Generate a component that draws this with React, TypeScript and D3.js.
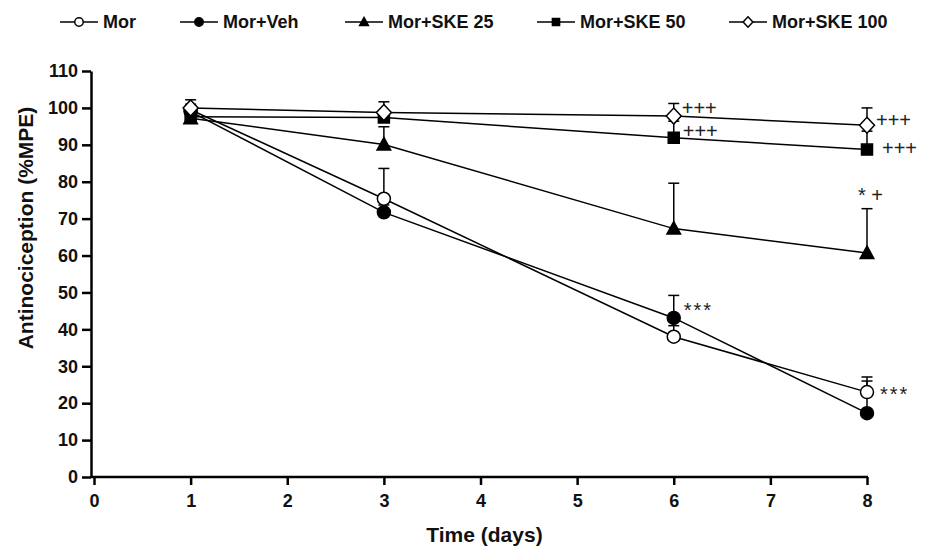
import React, { useEffect, useRef } from 'react';
import * as d3 from 'd3';

// days of measurement
const days = [1, 3, 6, 8];

// mean %MPE per group
const mor = [99.5, 75.4, 38.0, 23.0];
const morVeh = [99.0, 71.7, 43.1, 17.3];
const ske25 = [97.2, 90.1, 67.3, 60.7];
const ske50 = [97.6, 97.4, 91.9, 88.7];
const ske100 = [100.0, 98.75, 97.8, 95.3];

// upper SEM per group
const morErr = [1.5, 8.2, 3.0, 4.1];
const morVehErr = [1.0, 2.0, 6.1, 8.7];
const ske25Err = [1.5, 4.8, 12.3, 12.0];
const ske50Err = [1.0, 1.0, 4.5, 5.0];
const ske100Err = [2.2, 2.9, 3.4, 4.7];

const seriesNames = ['Mor', 'Mor+Veh', 'Mor+SKE 25', 'Mor+SKE 50', 'Mor+SKE 100'];
const xTicks = [0, 1, 2, 3, 4, 5, 6, 7, 8];
const yTicks = [0, 10, 20, 30, 40, 50, 60, 70, 80, 90, 100, 110];

// significance marks: series index, day index, text
const marks = [
  { s: 4, d: 2, text: '+++' },
  { s: 3, d: 2, text: '+++' },
  { s: 4, d: 3, text: '+++' },
  { s: 3, d: 3, text: '+++' },
  { s: 2, d: 3, text: '* +' },
  { s: 1, d: 2, text: '***' },
  { s: 0, d: 3, text: '***' },
];

const FONT = '"Liberation Sans", Arial, sans-serif';

const series = [
  { name: seriesNames[0], values: mor, err: morErr, shape: 'circle', fill: '#fff' },
  { name: seriesNames[1], values: morVeh, err: morVehErr, shape: 'circle', fill: '#000' },
  { name: seriesNames[2], values: ske25, err: ske25Err, shape: 'triangle', fill: '#000' },
  { name: seriesNames[3], values: ske50, err: ske50Err, shape: 'square', fill: '#000' },
  { name: seriesNames[4], values: ske100, err: ske100Err, shape: 'diamond', fill: '#fff' },
];

// offsets for the significance marks (dx, dy from the point or error cap)
const markOffsets = [
  { dx: 8, dy: -8, fromCap: false },
  { dx: 9, dy: -7, fromCap: false },
  { dx: 9, dy: -5, fromCap: false },
  { dx: 15, dy: -2, fromCap: false },
  { dx: -9, dy: -14, fromCap: true },
  { dx: 10, dy: -12, fromCap: false },
  { dx: 13, dy: -2, fromCap: false },
];

const markerPath = (shape) => {
  switch (shape) {
    case 'triangle':
      return 'M0,-7L6.8,5.5L-6.8,5.5Z';
    case 'square':
      return 'M-5.5,-5.5H5.5V5.5H-5.5Z';
    case 'diamond':
      return 'M0,-8L7.5,0L0,8L-7.5,0Z';
    default:
      return null;
  }
};

const Marker = ({ shape, fill, x, y, k = 1 }) => {
  if (shape === 'circle') {
    return <circle cx={x} cy={y} r={6.5 * k} fill={fill} stroke="#000" strokeWidth={1.5} />;
  }
  return (
    <path
      d={markerPath(shape)}
      transform={`translate(${x},${y}) scale(${k})`}
      fill={fill}
      stroke="#000"
      strokeWidth={1.5 / k}
      strokeLinejoin="miter"
    />
  );
};

const App = () => {
  const xRef = useRef(null);
  const yRef = useRef(null);

  const width = 928;
  const height = 548;

  const x = d3.scaleLinear().domain([0, 8]).range([94, 867]);
  const y = d3.scaleLinear().domain([0, 110]).range([477, 71]);

  useEffect(() => {
    const xAxis = d3.axisBottom(x).tickValues(xTicks).tickFormat(d3.format('d')).tickSize(8).tickSizeOuter(0).tickPadding(9);
    const yAxis = d3.axisLeft(y).tickValues(yTicks).tickFormat(d3.format('d')).tickSize(9).tickSizeOuter(0).tickPadding(4);

    const gx = d3.select(xRef.current);
    gx.selectAll('*').remove();
    gx.call(xAxis);
    gx.select('.domain').attr('stroke-width', 2.5).attr('d', `M${x(0) - 3},0H${x(8) + 1}`);
    gx.selectAll('.tick line').attr('stroke-width', 2.5);
    gx.selectAll('.tick text')
      .attr('font-family', FONT)
      .attr('font-weight', 'bold')
      .attr('font-size', 18)
      .attr('fill', '#111');

    const gy = d3.select(yRef.current);
    gy.selectAll('*').remove();
    gy.call(yAxis);
    gy.select('.domain').attr('stroke-width', 2.5);
    gy.selectAll('.tick line').attr('stroke-width', 2.5);
    gy.selectAll('.tick text')
      .attr('font-family', FONT)
      .attr('font-weight', 'bold')
      .attr('font-size', 18)
      .attr('fill', '#111');
  }, []);

  const line = d3.line().x((d) => x(d[0])).y((d) => y(d[1]));

  // legend layout
  const legendX = [60, 180, 345, 537, 729];
  const legendY = 22;

  return (
    <svg width={width} height={height} style={{ position: 'absolute', left: 0, top: 0, background: '#fff' }}>
      <rect width={width} height={height} fill="#fff" />

      {/* legend */}
      {series.map((s, i) => (
        <g key={s.name} transform={`translate(${legendX[i]},${legendY})`}>
          <line x1={0} x2={38} y1={0} y2={0} stroke="#000" strokeWidth={1.5} />
          <Marker shape={s.shape} fill={s.fill} x={19} y={0} k={0.65} />
          <text
            x={43}
            y={0}
            dominantBaseline="central"
            fontFamily={FONT}
            fontWeight="bold"
            fontSize={18}
            fill="#111"
          >
            {s.name}
          </text>
        </g>
      ))}

      {/* axes */}
      <g ref={xRef} transform={`translate(0,${y(0)})`} />
      <g ref={yRef} transform={`translate(${x(0) - 3},0)`} />

      <text
        x={(x(0) + x(8)) / 2 + 4}
        y={534}
        textAnchor="middle"
        dominantBaseline="central"
        fontFamily={FONT}
        fontWeight="bold"
        fontSize={21}
        fill="#111"
      >
        Time (days)
      </text>
      <text
        transform={`translate(25,228) rotate(-90)`}
        textAnchor="middle"
        dominantBaseline="central"
        fontFamily={FONT}
        fontWeight="bold"
        fontSize={21}
        fill="#111"
      >
        Antinociception (%MPE)
      </text>

      {/* lines */}
      {series.map((s) => (
        <path
          key={`l-${s.name}`}
          d={line(days.map((d, i) => [d, s.values[i]]))}
          fill="none"
          stroke="#000"
          strokeWidth={1.5}
        />
      ))}

      {/* error bars */}
      {series.map((s) =>
        days.map((d, i) => (
          <g key={`e-${s.name}-${d}`} stroke="#000" strokeWidth={1.5}>
            <line x1={x(d)} x2={x(d)} y1={y(s.values[i])} y2={y(s.values[i] + s.err[i])} />
            <line x1={x(d) - 5.5} x2={x(d) + 5.5} y1={y(s.values[i] + s.err[i])} y2={y(s.values[i] + s.err[i])} />
          </g>
        ))
      )}

      {/* markers */}
      {series.map((s) =>
        days.map((d, i) => (
          <Marker key={`m-${s.name}-${d}`} shape={s.shape} fill={s.fill} x={x(d)} y={y(s.values[i])} />
        ))
      )}

      {/* significance marks */}
      {marks.map((m, k) => {
        const s = series[m.s];
        const o = markOffsets[k];
        const v = o.fromCap ? s.values[m.d] + s.err[m.d] : s.values[m.d];
        return (
          <text
            key={`t-${k}`}
            x={x(days[m.d]) + o.dx}
            y={y(v) + o.dy + (m.text === '***' ? 11 : 7)}
            fontFamily={FONT}
            fontSize={20}
            letterSpacing={m.text === '***' ? 2 : 0}
            fill="#222"
          >
            {m.text}
          </text>
        );
      })}
    </svg>
  );
};

export default App;
